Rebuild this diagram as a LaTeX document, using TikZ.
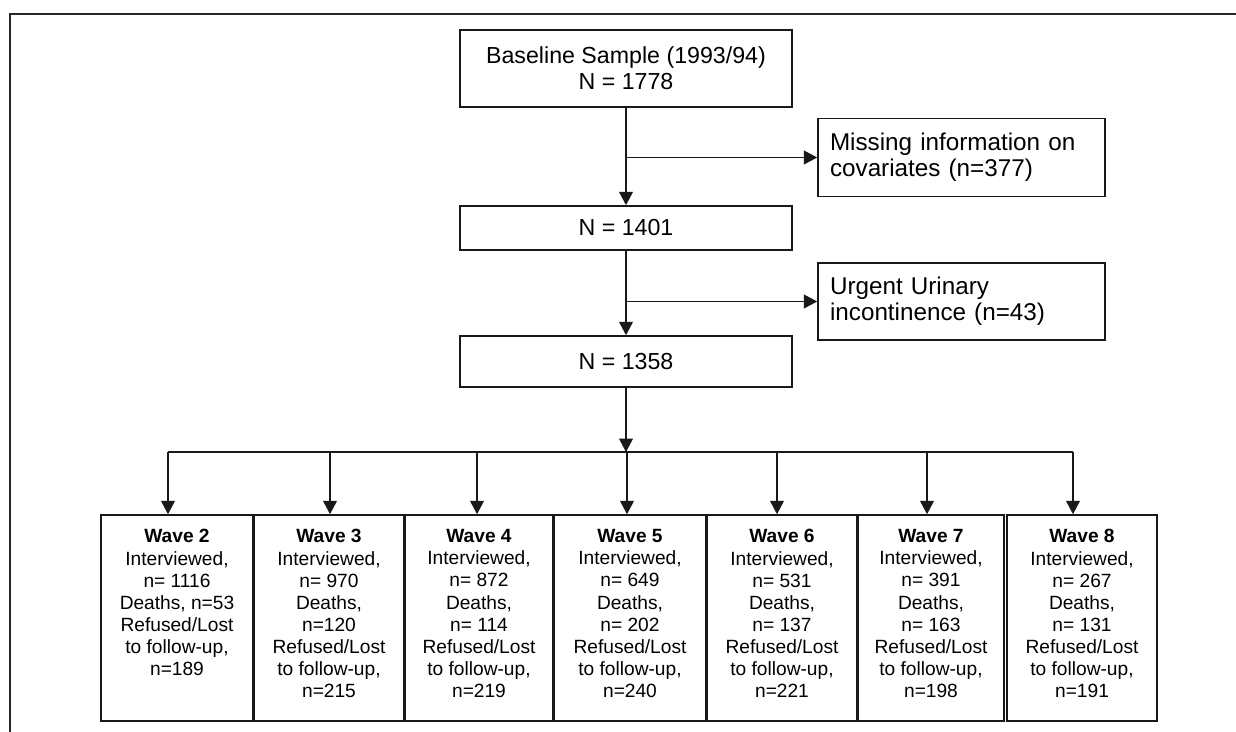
\documentclass[tikz,border=0pt]{standalone}
\usepackage{fontspec}
\setmainfont{Liberation Sans}
\usetikzlibrary{arrows.meta}

\tikzset{
  box/.style={draw=black!90, line width=0.9pt, rectangle, inner sep=0pt, align=center,
    minimum width=6.64cm, font=\fontsize{13.2}{15}\selectfont},
  sidebox/.style={draw=black!90, line width=0.9pt, rectangle, align=left, text width=5.26cm,
    inner xsep=0.24cm, inner ysep=0pt, minimum height=1.56cm, font=\fontsize{13.8}{14.6}\selectfont},
  wavebox/.style={draw=black!90, line width=0.9pt, rectangle, inner sep=0pt,
    font=\fontsize{10.9}{12.6}\selectfont},
  arr/.style={draw=black!90, line width=0.9pt, -{Triangle[length=7.6pt,width=7.8pt]}},
  link/.style={draw=black!90, line width=0.9pt}
}
\newcommand{\wavecell}[3]{\parbox[t][4.12cm][t]{#1}{\centering\vspace*{0.29cm}\textbf{#2}\\#3}}

\begin{document}
\begin{tikzpicture}[x=0.02cm, y=-0.02cm]

\useasboundingbox (0,0) rectangle (1236,732);

% Outer frame
\draw[line width=1.1pt, black!85] (10,732) -- (10,14) -- (1236,14);

% Main column
\node[box, minimum height=1.54cm] (base) at (626,68.5) {Baseline Sample (1993/94)\\N = 1778};
\node[box, minimum height=0.88cm] (n1401) at (626,228) {N = 1401};
\node[box, minimum height=1.02cm] (n1358) at (626,361.5) {N = 1358};

% Exclusions
\node[sidebox] (miss) at (961.5,157.5) {Missing information on\\covariates (n=377)};
\node[sidebox, minimum height=1.54cm] (urg) at (961.5,301.5) {Urgent Urinary\\incontinence (n=43)};

\draw[arr] (base) -- (n1401);
\draw[arr] (base.south |- miss.west) -- (miss.west);
\draw[arr] (n1401) -- (n1358);
\draw[arr] (n1401.south |- urg.west) -- (urg.west);

% Follow-up waves
\node[wavebox] (w2) at (177,618) {\wavecell{3.04cm}{Wave 2}{Interviewed,\\n= 1116\\Deaths, n=53\\Refused/Lost\\to follow-up,\\n=189}};
\node[wavebox] (w3) at (329,618) {\wavecell{3.00cm}{Wave 3}{Interviewed,\\n= 970\\Deaths,\\n=120\\Refused/Lost\\to follow-up,\\n=215}};
\node[wavebox] (w4) at (479,618) {\wavecell{2.96cm}{Wave 4}{Interviewed,\\n= 872\\Deaths,\\n= 114\\Refused/Lost\\to follow-up,\\n=219}};
\node[wavebox] (w5) at (630,618) {\wavecell{3.04cm}{Wave 5}{Interviewed,\\n= 649\\Deaths,\\n= 202\\Refused/Lost\\to follow-up,\\n=240}};
\node[wavebox] (w6) at (782,618) {\wavecell{3.00cm}{Wave 6}{Interviewed,\\n= 531\\Deaths,\\n= 137\\Refused/Lost\\to follow-up,\\n=221}};
\node[wavebox] (w7) at (931,618) {\wavecell{2.92cm}{Wave 7}{Interviewed,\\n= 391\\Deaths,\\n= 163\\Refused/Lost\\to follow-up,\\n=198}};
\node[wavebox] (w8) at (1082,618) {\wavecell{3.00cm}{Wave 8}{Interviewed,\\n= 267\\Deaths,\\n= 131\\Refused/Lost\\to follow-up,\\n=191}};

% Distribution bus
\coordinate (bus) at (626,452);
\coordinate (b2) at (168,452);
\coordinate (b3) at (330,452);
\coordinate (b4) at (477,452);
\coordinate (b5) at (627,452);
\coordinate (b6) at (777,452);
\coordinate (b7) at (927,452);
\coordinate (b8) at (1073,452);

\draw[arr] (n1358) -- (bus);
\draw[link] (b2) -- (b8);
\draw[arr] (b2) -- (b2 |- w2.north);
\draw[arr] (b3) -- (b3 |- w3.north);
\draw[arr] (b4) -- (b4 |- w4.north);
\draw[arr] (b5) -- (b5 |- w5.north);
\draw[arr] (b6) -- (b6 |- w6.north);
\draw[arr] (b7) -- (b7 |- w7.north);
\draw[arr] (b8) -- (b8 |- w8.north);

\end{tikzpicture}
\end{document}
